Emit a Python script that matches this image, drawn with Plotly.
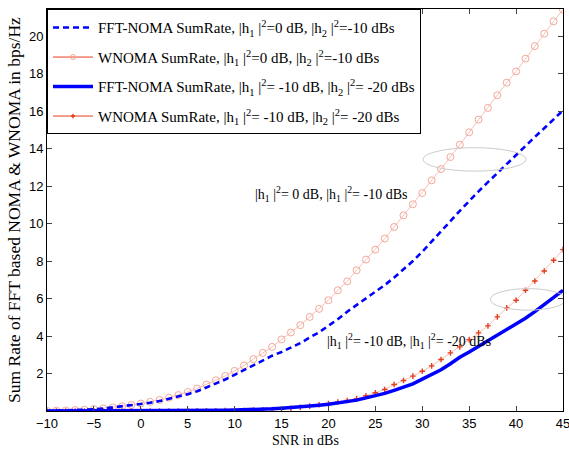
import plotly.graph_objects as go

snr = list(range(-10, 46))

fft_noma_1 = [0.00, 0.01, 0.02, 0.04, 0.06, 0.09, 0.13, 0.19, 0.25, 0.32,
              0.38, 0.44, 0.53, 0.64, 0.76, 0.90, 1.05, 1.25, 1.45, 1.68,
              1.93, 2.18, 2.44, 2.70, 2.95, 3.15, 3.38, 3.62, 3.92, 4.20,
              4.55, 4.90, 5.30, 5.65, 6.00, 6.33, 6.72, 7.12, 7.55, 8.00,
              8.50, 9.03, 9.58, 10.13, 10.68, 11.22, 11.72, 12.21, 12.70, 13.18,
              13.66, 14.14, 14.62, 15.09, 15.57, 16.04]

wnoma_1 = [0.01, 0.02, 0.03, 0.05, 0.07, 0.10, 0.14, 0.19, 0.25, 0.32,
           0.40, 0.49, 0.59, 0.71, 0.85, 1.02, 1.20, 1.41, 1.64, 1.87,
           2.14, 2.43, 2.77, 3.10, 3.42, 3.82, 4.19, 4.58, 5.02, 5.45,
           5.91, 6.44, 6.92, 7.51, 8.08, 8.61, 9.20, 9.82, 10.44, 11.03,
           11.63, 12.31, 12.91, 13.55, 14.21, 14.87, 15.55, 16.17, 16.85, 17.52,
           18.12, 18.80, 19.47, 20.13, 20.79, 21.41]

fft_noma_2 = [0.00, 0.00, 0.00, 0.00, 0.00, 0.00, 0.00, 0.00, 0.00, 0.00,
              0.01, 0.01, 0.01, 0.01, 0.01, 0.01, 0.02, 0.03, 0.03, 0.04,
              0.05, 0.06, 0.08, 0.10, 0.12, 0.15, 0.18, 0.22, 0.26, 0.31,
              0.36, 0.42, 0.48, 0.58, 0.70, 0.80, 0.94, 1.10, 1.27, 1.45,
              1.70, 1.95, 2.20, 2.52, 2.87, 3.15, 3.45, 3.75, 4.05, 4.30,
              4.60, 4.95, 5.30, 5.68, 6.05, 6.44]

wnoma_2 = [0.00, 0.00, 0.00, 0.00, 0.00, 0.00, 0.00, 0.00, 0.00, 0.00,
           0.00, 0.00, 0.00, 0.00, 0.00, 0.005, 0.01, 0.01, 0.015, 0.02,
           0.02, 0.03, 0.04, 0.06, 0.08, 0.11, 0.15, 0.20, 0.26, 0.33,
           0.40, 0.48, 0.56, 0.66, 0.81, 0.97, 1.15, 1.41, 1.63, 1.86,
           2.12, 2.41, 2.75, 3.10, 3.42, 3.81, 4.17, 4.54, 5.02, 5.50,
           5.91, 6.44, 6.94, 7.47, 8.04, 8.61]

x_ticks = [-10, -5, 0, 5, 10, 15, 20, 25, 30, 35, 40, 45]
y_ticks = [2, 4, 6, 8, 10, 12, 14, 16, 18, 20]

names = [
    "FFT-NOMA SumRate, |h<sub>1</sub> |<sup>2</sup>=0 dB, |h<sub>2</sub> |<sup>2</sup>=-10 dBs",
    "WNOMA SumRate, |h<sub>1</sub> |<sup>2</sup>=0 dB, |h<sub>2</sub> |<sup>2</sup>=-10 dBs",
    "FFT-NOMA SumRate, |h<sub>1</sub> |<sup>2</sup>= -10 dB, |h<sub>2</sub> |<sup>2</sup>= -20 dBs",
    "WNOMA SumRate, |h<sub>1</sub> |<sup>2</sup>= -10 dB, |h<sub>2</sub> |<sup>2</sup>= -20 dBs",
]
ann1 = "|h<sub>1</sub> |<sup>2</sup>= 0 dB, |h<sub>1</sub> |<sup>2</sup>= -10 dBs"
ann2 = "|h<sub>1</sub> |<sup>2</sup>= -10 dB, |h<sub>1</sub> |<sup>2</sup>= -20 dBs"
x_title = "SNR in dBs"
y_title = "Sum Rate of FFT based NOMA & WNOMA in bps/Hz"

BLUE = "#0000ff"
RED = "#e63c1e"
PALE = "#f6c2b6"
SERIF = "Liberation Serif, Times New Roman, serif"
SANS = "Liberation Sans, Arial, sans-serif"

fig = go.Figure()

# plotted data
fig.add_trace(go.Scatter(x=snr, y=wnoma_1, mode="lines+markers", showlegend=False,
                         line=dict(color=PALE, width=1),
                         marker=dict(symbol="circle-open", size=7, color="#f3a899", line=dict(width=1))))
fig.add_trace(go.Scatter(x=snr, y=wnoma_2, mode="lines+markers", showlegend=False,
                         line=dict(color=PALE, width=1),
                         marker=dict(symbol="cross-thin", size=4, color=RED, line=dict(width=1.4, color=RED))))
fig.add_trace(go.Scatter(x=snr, y=fft_noma_1, mode="lines", showlegend=False,
                         line=dict(color=BLUE, width=2.6, dash="6px,4px")))
fig.add_trace(go.Scatter(x=snr, y=fft_noma_2, mode="lines", showlegend=False,
                         line=dict(color=BLUE, width=3.5)))

# legend entries
fig.add_trace(go.Scatter(x=[None], y=[None], mode="lines", name=names[0], legendgroup="a",
                         line=dict(color=BLUE, width=2.6, dash="6px,4px")))
fig.add_trace(go.Scatter(x=[None], y=[None], mode="lines+markers", name=names[1], legendgroup="b",
                         line=dict(color=RED, width=1),
                         marker=dict(symbol="circle-open", size=5, color="#f3a899")))
fig.add_trace(go.Scatter(x=[None], y=[None], mode="lines", name=names[2], legendgroup="c",
                         line=dict(color=BLUE, width=3.5)))
fig.add_trace(go.Scatter(x=[None], y=[None], mode="lines+markers", name=names[3], legendgroup="d",
                         line=dict(color=RED, width=1),
                         marker=dict(symbol="cross-thin", size=3, color=RED, line=dict(width=1.5, color=RED))))

fig.update_layout(
    width=569, height=450,
    margin=dict(l=47, r=6, t=9, b=39, autoexpand=False),
    paper_bgcolor="white", plot_bgcolor="white",
    font=dict(family=SERIF, size=14, color="black"),
    legend=dict(x=0, y=1, xanchor="left", yanchor="top",
                bgcolor="white", bordercolor="black", borderwidth=1,
                font=dict(family=SERIF, size=15, color="black"),
                title=dict(text=" ", font=dict(size=1)),
                itemwidth=40, tracegroupgap=7, traceorder="grouped"),
    xaxis=dict(range=[-10, 45], tickvals=x_ticks, ticks="inside", ticklen=5,
               showline=True, linecolor="black", linewidth=1, mirror="ticks",
               showgrid=False, zeroline=False, automargin=False,
               ticklabeloverflow="allow",
               tickfont=dict(family=SANS, size=13, color="black")),
    yaxis=dict(range=[0, 21.45], tickvals=y_ticks, ticks="inside", ticklen=5,
               showline=True, linecolor="black", linewidth=1, mirror="ticks",
               showgrid=False, zeroline=False, automargin=False,
               ticklabeloverflow="allow",
               tickfont=dict(family=SANS, size=13, color="black")),
    shapes=[
        dict(type="circle", xref="x", yref="y", x0=30.07, x1=41.06, y0=12.8, y1=14.05,
             line=dict(color="#cccccc", width=1)),
        dict(type="circle", xref="x", yref="y", x0=37.25, x1=45.3, y0=5.38, y1=6.53,
             line=dict(color="#cccccc", width=1)),
    ],
    annotations=[
        dict(x=12.0, y=11.6, xref="x", yref="y", text=ann1, showarrow=False,
             xanchor="left", yanchor="middle", font=dict(family=SERIF, size=14, color="black")),
        dict(x=19.66, y=3.72, xref="x", yref="y", text=ann2, showarrow=False,
             xanchor="left", yanchor="middle", font=dict(family=SERIF, size=14, color="black")),
        dict(x=0.5, y=-0.0, xref="paper", yref="paper", yshift=-29, text=x_title, showarrow=False,
             xanchor="center", yanchor="middle", font=dict(family=SERIF, size=14, color="black")),
        dict(x=0, y=0.5, xref="paper", yref="paper", xshift=-33, text=y_title, showarrow=False,
             textangle=-90, xanchor="center", yanchor="middle",
             font=dict(family=SERIF, size=17.5, color="black")),
    ],
)

fig.write_html("out.html",
               config={"displayModeBar": False},
               post_script="document.body.style.margin='0';document.body.style.overflow='hidden';")
